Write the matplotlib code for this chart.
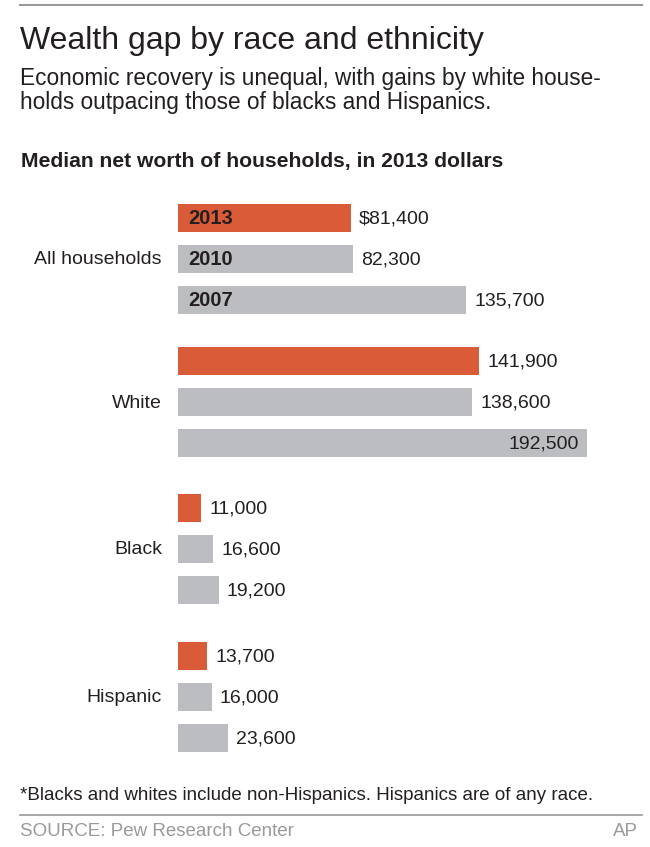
import matplotlib
matplotlib.use("Agg")
import matplotlib.pyplot as plt
from matplotlib.lines import Line2D

plt.rcParams["font.family"] = ["Liberation Sans", "DejaVu Sans"]

groups = ["All households", "White", "Black", "Hispanic"]
years = ["2013", "2010", "2007"]
values = {
    "All households": [81400, 82300, 135700],
    "White": [141900, 138600, 192500],
    "Black": [11000, 16600, 19200],
    "Hispanic": [13700, 16000, 23600],
}
value_labels = {
    "All households": ["$81,400", "82,300", "135,700"],
    "White": ["141,900", "138,600", "192,500"],
    "Black": ["11,000", "16,600", "19,200"],
    "Hispanic": ["13,700", "16,000", "23,600"],
}

ORANGE = "#d95b37"
GREY = "#bcbdc0"
TEXT = "#231f20"

W, H = 650, 847
fig = plt.figure(figsize=(W / 100, H / 100), dpi=100)


def fx(px):
    return px / W


def fy(py):
    return 1 - py / H


# rules
fig.add_artist(Line2D([fx(20), fx(642)], [fy(5), fy(5)], color="#9a9a9a", lw=1.5))
fig.add_artist(Line2D([fx(20), fx(642)], [fy(815), fy(815)], color="#9a9a9a", lw=1.2))

fig.text(fx(20), fy(41), "Wealth gap by race and ethnicity", fontsize=23,
         color=TEXT, va="center", ha="left")
fig.text(fx(20), fy(78), "Economic recovery is unequal, with gains by white house-",
         fontsize=16.3, color=TEXT, va="center")
fig.text(fx(20), fy(102), "holds outpacing those of blacks and Hispanics.",
         fontsize=16.3, color=TEXT, va="center")
fig.text(fx(21), fy(162), "Median net worth of households, in 2013 dollars",
         fontsize=15.2, fontweight="bold", color=TEXT, va="center")

# bar axes: y units are pixels from top of figure
x0, x1 = 178, 587
y_top, y_bot = 190, 770
ax = fig.add_axes([fx(x0), fy(y_bot), fx(x1) - fx(x0), (y_bot - y_top) / H])
ax.set_xlim(0, 192500)
ax.set_ylim(y_bot, y_top)
ax.axis("off")

group_start = [217.5, 361, 507.5, 656]
step = 41
bar_h = 28
top_value = max(max(vs) for vs in values.values())

for gi, g in enumerate(groups):
    ys = [group_start[gi] + k * step for k in range(3)]
    colors = [ORANGE, GREY, GREY]
    ax.barh(ys, values[g], height=bar_h, color=colors, left=0)
    for k, (v, lab) in enumerate(zip(values[g], value_labels[g])):
        if v == top_value:
            ax.annotate(lab, (v, ys[k] + 1), xytext=(-8, 0), textcoords="offset pixels",
                        ha="right", va="center", fontsize=14, color=TEXT)
        else:
            ax.annotate(lab, (v, ys[k] + 1), xytext=(8, 0), textcoords="offset pixels",
                        ha="left", va="center", fontsize=14, color=TEXT)
        if gi == 0:
            ax.annotate(years[k], (0, ys[k] + 1), xytext=(10, 0), textcoords="offset pixels",
                        ha="left", va="center", fontsize=14.5, fontweight="bold",
                        color=TEXT)
    fig.text(fx(162), fy(ys[1] + 1), g, ha="right", va="center", fontsize=14, color=TEXT)

fig.text(fx(20), fy(795),
         "*Blacks and whites include non-Hispanics. Hispanics are of any race.",
         fontsize=13.5, color=TEXT, va="center")
fig.text(fx(20), fy(831), "SOURCE: Pew Research Center", fontsize=13.5,
         color="#9a9a9a", va="center")
fig.text(fx(638), fy(831), "AP", fontsize=13.5, color="#9a9a9a", va="center", ha="right")

fig.savefig("out.png", dpi=100)
